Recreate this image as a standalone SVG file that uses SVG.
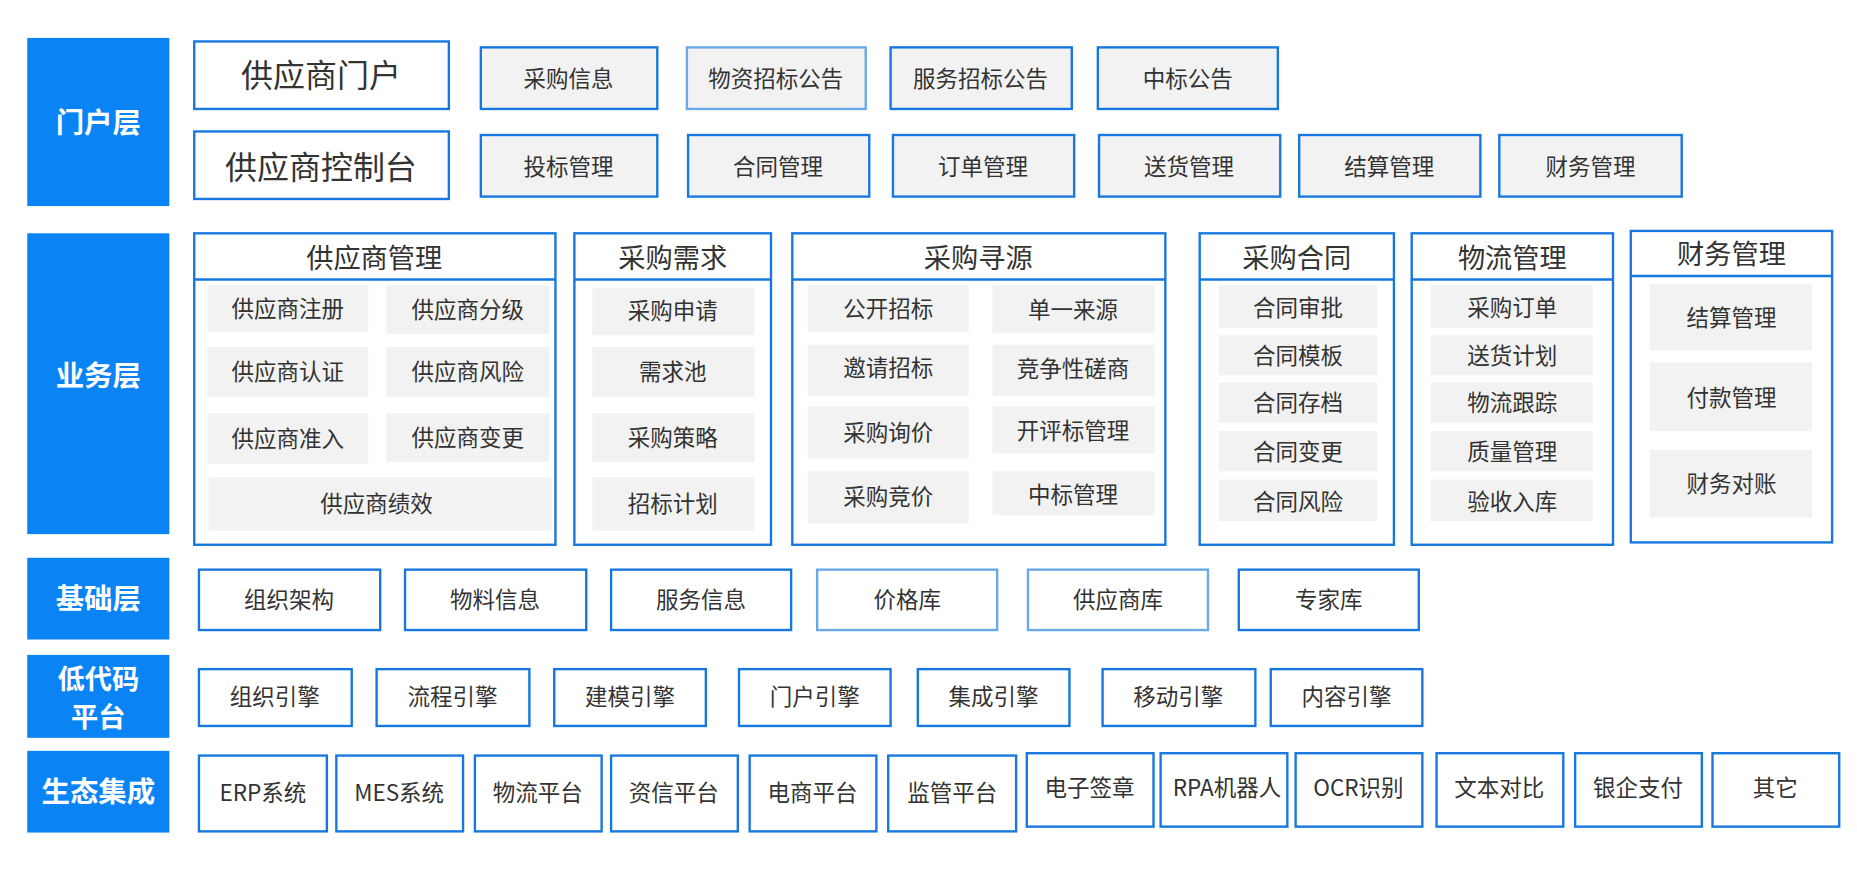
<svg xmlns="http://www.w3.org/2000/svg" width="1857" height="874" viewBox="0 0 1857 874">
<style>
text{font-family:"Noto Sans CJK SC","Liberation Sans",sans-serif;text-anchor:middle;dominant-baseline:central;fill:#333}
.lay{fill:#0a84f5}
.lt{fill:#fff;font-weight:bold;font-size:24px}
.w{fill:#fff;stroke:#1677e0;stroke-width:2}
.g{fill:#f2f2f2;stroke:#1677e0;stroke-width:2}
.i{fill:#f2f2f2}
.s{font-size:19px}
.h{font-size:23px}
.b{font-size:27px}
.ln{stroke:#1677e0;stroke-width:2}
</style>
<rect width="1857" height="874" fill="#fff"/>
<g transform="scale(1.1843)">
<g id="layers">
<rect class="lay" x="23" y="32" width="120" height="142"/><text class="lt" x="83" y="102">门户层</text>
<rect class="lay" x="23" y="197" width="120" height="254"/><text class="lt" x="83" y="315">业务层</text>
<rect class="lay" x="23" y="471" width="120" height="69"/><text class="lt" x="83" y="504">基础层</text>
<rect class="lay" x="23" y="553" width="120" height="70"/><text class="lt" x="83" y="572" style="font-size:23px">低代码</text><text class="lt" x="83" y="604" style="font-size:23px">平台</text>
<rect class="lay" x="23" y="634" width="120" height="69"/><text class="lt" x="83" y="667">生态集成</text>
</g>
<g id="portal">
<rect class="w" x="164" y="35" width="215" height="57"/><text class="b" x="271" y="62">供应商门户</text>
<rect class="g" x="406" y="40" width="149" height="52"/><text class="s" x="480" y="65">采购信息</text>
<rect class="g" x="580" y="40" width="151" height="52" style="stroke:#6aa8e8"/><text class="s" x="655" y="65">物资招标公告</text>
<rect class="g" x="752" y="40" width="153" height="52"/><text class="s" x="828" y="65">服务招标公告</text>
<rect class="g" x="927" y="40" width="152" height="52"/><text class="s" x="1003" y="65">中标公告</text>
<rect class="w" x="164" y="111" width="215" height="57"/><text class="b" x="271" y="139">供应商控制台</text>
<rect class="g" x="406" y="114" width="149" height="52"/><text class="s" x="480" y="139">投标管理</text>
<rect class="g" x="581" y="114" width="153" height="52"/><text class="s" x="657" y="139">合同管理</text>
<rect class="g" x="754" y="114" width="153" height="52"/><text class="s" x="830" y="139">订单管理</text>
<rect class="g" x="928" y="114" width="153" height="52"/><text class="s" x="1004" y="139">送货管理</text>
<rect class="g" x="1097" y="114" width="153" height="52"/><text class="s" x="1173" y="139">结算管理</text>
<rect class="g" x="1266" y="114" width="154" height="52"/><text class="s" x="1343" y="139">财务管理</text>
</g>
<g id="g-supplier">
<rect class="w" x="164" y="197" width="305" height="263"/><line class="ln" x1="164" y1="236" x2="469" y2="236"/><text class="h" x="316" y="216">供应商管理</text>
<rect class="i" x="175" y="241" width="136" height="39"/><text class="s" x="243" y="259">供应商注册</text>
<rect class="i" x="326" y="241" width="138" height="41"/><text class="s" x="395" y="260">供应商分级</text>
<rect class="i" x="175" y="293" width="136" height="42"/><text class="s" x="243" y="312">供应商认证</text>
<rect class="i" x="326" y="293" width="138" height="42"/><text class="s" x="395" y="312">供应商风险</text>
<rect class="i" x="175" y="349" width="136" height="43"/><text class="s" x="243" y="369">供应商准入</text>
<rect class="i" x="326" y="349" width="138" height="41"/><text class="s" x="395" y="368">供应商变更</text>
<rect class="i" x="176" y="403" width="290" height="45"/><text class="s" x="318" y="424">供应商绩效</text>
</g>
<g id="g-demand">
<rect class="w" x="485" y="197" width="166" height="263"/><line class="ln" x1="485" y1="236" x2="651" y2="236"/><text class="h" x="568" y="216">采购需求</text>
<rect class="i" x="500" y="243" width="137" height="40"/><text class="s" x="568" y="261">采购申请</text>
<rect class="i" x="500" y="293" width="137" height="42"/><text class="s" x="568" y="312">需求池</text>
<rect class="i" x="500" y="349" width="137" height="41"/><text class="s" x="568" y="368">采购策略</text>
<rect class="i" x="500" y="403" width="137" height="45"/><text class="s" x="568" y="424">招标计划</text>
</g>
<g id="g-sourcing">
<rect class="w" x="669" y="197" width="315" height="263"/><line class="ln" x1="669" y1="236" x2="984" y2="236"/><text class="h" x="826" y="216">采购寻源</text>
<rect class="i" x="682" y="241" width="136" height="39"/><text class="s" x="750" y="259">公开招标</text>
<rect class="i" x="838" y="241" width="137" height="40"/><text class="s" x="906" y="260">单一来源</text>
<rect class="i" x="682" y="291" width="136" height="43"/><text class="s" x="750" y="309">邀请招标</text>
<rect class="i" x="838" y="291" width="137" height="43"/><text class="s" x="906" y="310">竞争性磋商</text>
<rect class="i" x="682" y="343" width="136" height="44"/><text class="s" x="750" y="364">采购询价</text>
<rect class="i" x="838" y="343" width="137" height="40"/><text class="s" x="906" y="362">开评标管理</text>
<rect class="i" x="682" y="398" width="136" height="44"/><text class="s" x="750" y="418">采购竞价</text>
<rect class="i" x="838" y="398" width="137" height="37"/><text class="s" x="906" y="416">中标管理</text>
</g>
<g id="g-contract">
<rect class="w" x="1013" y="197" width="164" height="263"/><line class="ln" x1="1013" y1="236" x2="1177" y2="236"/><text class="h" x="1095" y="216">采购合同</text>
<rect class="i" x="1029" y="241" width="134" height="36"/><text class="s" x="1096" y="258">合同审批</text>
<rect class="i" x="1029" y="283" width="134" height="34"/><text class="s" x="1096" y="299">合同模板</text>
<rect class="i" x="1029" y="323" width="134" height="34"/><text class="s" x="1096" y="339">合同存档</text>
<rect class="i" x="1029" y="364" width="134" height="34"/><text class="s" x="1096" y="380">合同变更</text>
<rect class="i" x="1029" y="405" width="134" height="35"/><text class="s" x="1096" y="422">合同风险</text>
</g>
<g id="g-logistics">
<rect class="w" x="1192" y="197" width="170" height="263"/><line class="ln" x1="1192" y1="236" x2="1362" y2="236"/><text class="h" x="1277" y="216">物流管理</text>
<rect class="i" x="1208" y="241" width="137" height="36"/><text class="s" x="1277" y="258">采购订单</text>
<rect class="i" x="1208" y="283" width="137" height="34"/><text class="s" x="1277" y="299">送货计划</text>
<rect class="i" x="1208" y="323" width="137" height="34"/><text class="s" x="1277" y="339">物流跟踪</text>
<rect class="i" x="1208" y="364" width="137" height="34"/><text class="s" x="1277" y="380">质量管理</text>
<rect class="i" x="1208" y="405" width="137" height="35"/><text class="s" x="1277" y="422">验收入库</text>
</g>
<g id="g-finance">
<rect class="w" x="1377" y="195" width="170" height="263"/><line class="ln" x1="1377" y1="233" x2="1547" y2="233"/><text class="h" x="1462" y="213">财务管理</text>
<rect class="i" x="1393" y="240" width="137" height="56"/><text class="s" x="1462" y="267">结算管理</text>
<rect class="i" x="1393" y="306" width="137" height="58"/><text class="s" x="1462" y="334">付款管理</text>
<rect class="i" x="1393" y="380" width="137" height="57"/><text class="s" x="1462" y="407">财务对账</text>
</g>
<g id="base">
<rect class="w" x="168" y="481" width="153" height="51"/><text class="s" x="244" y="505">组织架构</text>
<rect class="w" x="342" y="481" width="153" height="51"/><text class="s" x="418" y="505">物料信息</text>
<rect class="w" x="516" y="481" width="152" height="51"/><text class="s" x="592" y="505">服务信息</text>
<rect class="w" x="690" y="481" width="152" height="51" style="stroke:#6aa8e8"/><text class="s" x="766" y="505">价格库</text>
<rect class="w" x="868" y="481" width="152" height="51" style="stroke:#6aa8e8"/><text class="s" x="944" y="505">供应商库</text>
<rect class="w" x="1046" y="481" width="152" height="51"/><text class="s" x="1122" y="505">专家库</text>
</g>
<g id="lowcode">
<rect class="w" x="168" y="565" width="129" height="48"/><text class="s" x="232" y="587">组织引擎</text>
<rect class="w" x="318" y="565" width="129" height="48"/><text class="s" x="382" y="587">流程引擎</text>
<rect class="w" x="468" y="565" width="128" height="48"/><text class="s" x="532" y="587">建模引擎</text>
<rect class="w" x="624" y="565" width="128" height="48"/><text class="s" x="688" y="587">门户引擎</text>
<rect class="w" x="775" y="565" width="128" height="48"/><text class="s" x="839" y="587">集成引擎</text>
<rect class="w" x="931" y="565" width="129" height="48"/><text class="s" x="995" y="587">移动引擎</text>
<rect class="w" x="1073" y="565" width="128" height="48"/><text class="s" x="1137" y="587">内容引擎</text>
</g>
<g id="eco">
<rect class="w" x="168" y="638" width="108" height="64"/><text class="s" x="222" y="668">ERP系统</text>
<rect class="w" x="284" y="638" width="107" height="64"/><text class="s" x="337" y="668">MES系统</text>
<rect class="w" x="401" y="638" width="107" height="64"/><text class="s" x="454" y="668">物流平台</text>
<rect class="w" x="516" y="638" width="107" height="64"/><text class="s" x="569" y="668">资信平台</text>
<rect class="w" x="633" y="638" width="107" height="64"/><text class="s" x="686" y="668">电商平台</text>
<rect class="w" x="750" y="638" width="108" height="64"/><text class="s" x="804" y="668">监管平台</text>
<rect class="w" x="867" y="636" width="107" height="62"/><text class="s" x="920" y="664">电子签章</text>
<rect class="w" x="980" y="636" width="107" height="62"/><text class="s" x="1036" y="664">RPA机器人</text>
<rect class="w" x="1094" y="636" width="107" height="62"/><text class="s" x="1147" y="664">OCR识别</text>
<rect class="w" x="1213" y="636" width="107" height="62"/><text class="s" x="1266" y="664">文本对比</text>
<rect class="w" x="1330" y="636" width="107" height="62"/><text class="s" x="1383" y="664">银企支付</text>
<rect class="w" x="1446" y="636" width="107" height="62"/><text class="s" x="1499" y="664">其它</text>
</g>
<g id="connectors"/>
</g>
</svg>
